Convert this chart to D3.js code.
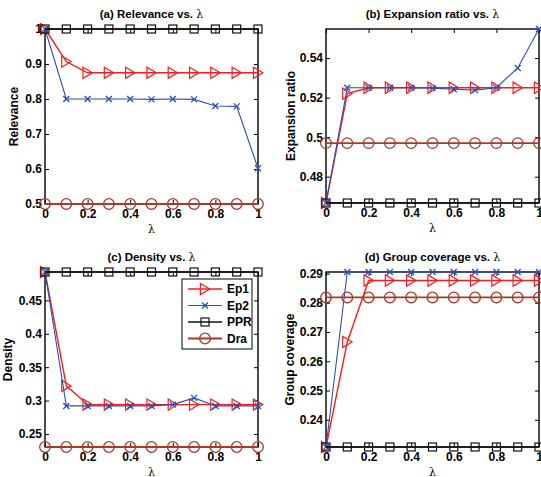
<!DOCTYPE html>
<html>
<head>
<meta charset="utf-8">
<script src="https://cdn.jsdelivr.net/npm/d3@7"></script>
<style>
    html, body { margin: 0; padding: 0; background: #fff; }
    svg { display: block; font-family: "Liberation Sans", Arial, sans-serif; }
    .tick text { font-weight: bold; font-size: 12px; fill: #000; }
</style>
</head>
<body>
<div id="chart"></div>
<script>
const lambdas = [0, 0.1, 0.2, 0.3, 0.4, 0.5, 0.6, 0.7, 0.8, 0.9, 1];
const xTicks = [0, 0.2, 0.4, 0.6, 0.8, 1];

const seriesNames = ["Ep1", "Ep2", "PPR", "Dra"];

// (a) relevance
const relEp1 = [1.0, 0.907, 0.875, 0.875, 0.875, 0.875, 0.875, 0.875, 0.875, 0.875, 0.875];
const relEp2 = [1.0, 0.8, 0.8, 0.8, 0.8, 0.799, 0.8, 0.799, 0.78, 0.779, 0.602];
const relPPR = [1, 1, 1, 1, 1, 1, 1, 1, 1, 1, 1];
const relDra = [0.5, 0.5, 0.5, 0.5, 0.5, 0.5, 0.5, 0.5, 0.5, 0.5, 0.5];
const relTicks = [0.5, 0.6, 0.7, 0.8, 0.9, 1];

// (b) expansion ratio
const expEp1 = [0.4667, 0.522, 0.525, 0.525, 0.525, 0.525, 0.525, 0.525, 0.525, 0.525, 0.525];
const expEp2 = [0.4667, 0.525, 0.525, 0.525, 0.525, 0.5248, 0.5242, 0.5238, 0.525, 0.535, 0.5547];
const expPPR = [0.4667, 0.4667, 0.4667, 0.4667, 0.4667, 0.4667, 0.4667, 0.4667, 0.4667, 0.4667, 0.4667];
const expDra = [0.497, 0.497, 0.497, 0.497, 0.497, 0.497, 0.497, 0.497, 0.497, 0.497, 0.497];
const expTicks = [0.48, 0.5, 0.52, 0.54];

// (c) density
const denEp1 = [0.4925, 0.322, 0.294, 0.294, 0.294, 0.294, 0.294, 0.294, 0.294, 0.294, 0.294];
const denEp2 = [0.4925, 0.292, 0.292, 0.292, 0.292, 0.292, 0.294, 0.304, 0.292, 0.292, 0.292];
const denPPR = [0.4925, 0.4925, 0.4925, 0.4925, 0.4925, 0.4925, 0.4925, 0.4925, 0.4925, 0.4925, 0.4925];
const denDra = [0.2305, 0.2305, 0.2305, 0.2305, 0.2305, 0.2305, 0.2305, 0.2305, 0.2305, 0.2305, 0.2305];
const denTicks = [0.25, 0.3, 0.35, 0.4, 0.45];

// (d) group coverage
const covEp1 = [0.2307, 0.2666, 0.2876, 0.2876, 0.2876, 0.2876, 0.2876, 0.2876, 0.2876, 0.2876, 0.2876];
const covEp2 = [0.2307, 0.2905, 0.2905, 0.2905, 0.2905, 0.2905, 0.2905, 0.2905, 0.2905, 0.2905, 0.2905];
const covPPR = [0.2307, 0.2307, 0.2307, 0.2307, 0.2307, 0.2307, 0.2307, 0.2307, 0.2307, 0.2307, 0.2307];
const covDra = [0.2818, 0.2818, 0.2818, 0.2818, 0.2818, 0.2818, 0.2818, 0.2818, 0.2818, 0.2818, 0.2818];
const covTicks = [0.24, 0.25, 0.26, 0.27, 0.28, 0.29];

const width = 541, height = 477;

const styles = {
    Ep1: { color: "#f41e1e", width: 1.4, marker: "tri" },
    Ep2: { color: "#2f4fae", width: 1.1, marker: "x" },
    PPR: { color: "#111", width: 1.4, marker: "square" },
    Dra: { color: "#a63b2a", width: 1.8, marker: "circle" }
};

const panels = [
    { title: "(a) Relevance vs. ", ylabel: "Relevance", series: [relEp1, relEp2, relPPR, relDra], ticks: relTicks,
      box: { l: 45, r: 258, t: 29, b: 204 }, ylabelX: 18 },
    { title: "(b) Expansion ratio vs. ", ylabel: "Expansion ratio", series: [expEp1, expEp2, expPPR, expDra], ticks: expTicks,
      box: { l: 326, r: 539, t: 29, b: 203 }, ylabelX: 295 },
    { title: "(c) Density vs. ", ylabel: "Density", series: [denEp1, denEp2, denPPR, denDra], ticks: denTicks,
      box: { l: 45, r: 258, t: 272, b: 447 }, ylabelX: 12, legend: true },
    { title: "(d) Group coverage vs. ", ylabel: "Group coverage", series: [covEp1, covEp2, covPPR, covDra], ticks: covTicks,
      box: { l: 326, r: 539, t: 272, b: 447 }, ylabelX: 294 }
];

const svg = d3.select("#chart")
    .append("svg")
    .attr("width", width)
    .attr("height", height)
    .attr("viewBox", `0 0 ${width} ${height}`);

function drawMarker(sel, kind, color) {
    if(kind === "tri") {
        sel.append("path").attr("d", "M-4.6,-5.6L4.8,0L-4.6,5.6Z")
            .attr("fill", "none").attr("stroke", color).attr("stroke-width", 1.2);
    } else if(kind === "x") {
        sel.append("path").attr("d", "M-3,-3L3,3M-3,3L3,-3")
            .attr("fill", "none").attr("stroke", color).attr("stroke-width", 1.3);
    } else if(kind === "square") {
        sel.append("rect").attr("x", -4).attr("y", -4).attr("width", 8).attr("height", 8)
            .attr("fill", "none").attr("stroke", color).attr("stroke-width", 1.2);
    } else {
        sel.append("circle").attr("r", 5.3)
            .attr("fill", "none").attr("stroke", color).attr("stroke-width", 1.3);
    }
}

panels.forEach(p => {
    const { l, r, t, b } = p.box;
    const all = p.series.flat();

    const x = d3.scaleLinear().domain([0, 1]).range([l, r]);
    const y = d3.scaleLinear().domain(d3.extent(all)).range([b, t]);
    const fmt = d3.format("~g");

    const g = svg.append("g");

    // inward ticks on all four sides
    g.append("g").attr("transform", `translate(${l},0)`)
        .call(d3.axisLeft(y).tickValues(p.ticks).tickFormat(fmt).tickSizeInner(-4).tickSizeOuter(0).tickPadding(3))
        .call(a => a.select(".domain").remove());
    g.append("g").attr("transform", `translate(${r},0)`)
        .call(d3.axisRight(y).tickValues(p.ticks).tickFormat("").tickSizeInner(-4).tickSizeOuter(0))
        .call(a => a.select(".domain").remove());
    g.append("g").attr("transform", `translate(0,${b})`)
        .call(d3.axisBottom(x).tickValues(xTicks).tickFormat(fmt).tickSizeInner(-4).tickSizeOuter(0).tickPadding(5))
        .call(a => a.select(".domain").remove());
    g.append("g").attr("transform", `translate(0,${t})`)
        .call(d3.axisTop(x).tickValues(xTicks).tickFormat("").tickSizeInner(-4).tickSizeOuter(0))
        .call(a => a.select(".domain").remove());

    g.selectAll(".tick line").attr("stroke", "#000").attr("stroke-width", 1);
    g.selectAll(".tick text").attr("font-family", null).attr("font-size", null);

    g.append("rect")
        .attr("x", l).attr("y", t)
        .attr("width", r - l).attr("height", b - t)
        .attr("fill", "none")
        .attr("stroke", "#000")
        .attr("stroke-width", 1.4);

    const line = d3.line()
        .x((d, i) => x(lambdas[i]))
        .y(d => y(d));

    p.series.forEach((values, si) => {
        const st = styles[seriesNames[si]];
        const sg = g.append("g").attr("class", "series-" + seriesNames[si]);

        sg.append("path")
            .attr("d", line(values))
            .attr("fill", "none")
            .attr("stroke", st.color)
            .attr("stroke-width", st.width);

        sg.selectAll("g.mk")
            .data(values)
            .enter()
            .append("g")
            .attr("class", "mk")
            .attr("transform", (d, i) => `translate(${x(lambdas[i])},${y(d)})`)
            .each(function() { drawMarker(d3.select(this), st.marker, st.color); });
    });

    // title
    const title = g.append("text")
        .attr("x", (l + r) / 2)
        .attr("y", t - 11.5)
        .attr("text-anchor", "middle")
        .style("font-size", "11.5px")
        .style("font-weight", "bold");
    title.append("tspan").text(p.title);
    title.append("tspan")
        .style("font-family", "'DejaVu Serif', serif")
        .style("font-weight", "normal")
        .style("font-size", "11px")
        .text("λ");

    // axis labels
    g.append("text")
        .attr("transform", `translate(${p.ylabelX},${(t + b) / 2}) rotate(-90)`)
        .attr("text-anchor", "middle")
        .style("font-size", "12px")
        .style("font-weight", "bold")
        .text(p.ylabel);

    g.append("text")
        .attr("x", (l + r) / 2)
        .attr("y", b + 29)
        .attr("text-anchor", "middle")
        .style("font-family", "'DejaVu Serif', serif")
        .style("font-size", "11px")
        .text("λ");

    if(p.legend) {
        const lg = g.append("g").attr("transform", "translate(182,279)");
        lg.append("rect")
            .attr("width", 70).attr("height", 70)
            .attr("fill", "#fff")
            .attr("stroke", "#000")
            .attr("stroke-width", 1);

        seriesNames.forEach((name, i) => {
            const st = styles[name];
            const row = lg.append("g").attr("transform", `translate(0,${10 + i * 16.5})`);
            row.append("line")
                .attr("x1", 6).attr("x2", 40)
                .attr("stroke", st.color)
                .attr("stroke-width", st.width);
            drawMarker(row.append("g").attr("transform", "translate(23,0)"), st.marker, st.color);
            row.append("text")
                .attr("x", 45)
                .attr("y", 4)
                .style("font-size", "12px")
                .style("font-weight", "bold")
                .text(name);
        });
    }
});
</script>
</body>
</html>
